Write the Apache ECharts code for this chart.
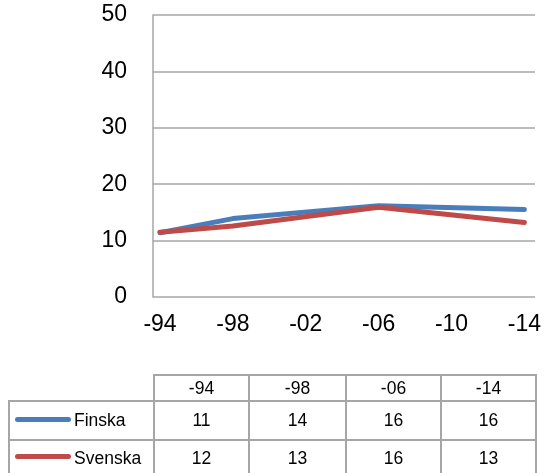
<!DOCTYPE html>
<html>
<head>
<meta charset="utf-8">
<script src="https://cdn.jsdelivr.net/npm/echarts@6/dist/echarts.min.js"></script>
<style>
  html, body { margin: 0; padding: 0; background: #fff; }
  #wrap { position: relative; width: 544px; height: 473px; overflow: hidden; font-family: 'Liberation Sans', Arial, sans-serif; }
  #chart { position: absolute; left: 0; top: 0; width: 544px; height: 473px; }
  #tbl { position: absolute; left: 8px; top: 374px; border-collapse: collapse; table-layout: fixed; font-size: 17.5px; color: #000; }
  #tbl td { border: 2px solid #a6a6a6; text-align: center; padding: 0; }
  #tbl td.corner { border: none; }
  #tbl td.name { text-align: left; white-space: nowrap; }
  .key { display: inline-block; width: 56px; height: 5px; border-radius: 3px; margin: 0 3px 4px 5px; vertical-align: middle; }
</style>
</head>
<body>
<div id="wrap">
  <div id="chart"></div>
  <table id="tbl"></table>
</div>
<script>
// axelns kategorier
const years = ['-94', '-98', '-02', '-06', '-10', '-14']
// linjernas värden (null = inget mätvärde, linjen dras rakt igenom)
const finska = [11.4, 13.9, null, 16.2, null, 15.5]
const svenska = [11.5, 12.6, null, 15.9, null, 13.2]
// datatabellen under diagrammet
const tableYears = ['-94', '-98', '-06', '-14']
const finskaTable = [11, 14, 16, 16]
const svenskaTable = [12, 13, 16, 13]

const blue = '#4a7ebb'
const red = '#be4b48'
const gray = '#a6a6a6'

const myChart = echarts.init(document.getElementById('chart'))
myChart.setOption({
  animation: false,
  textStyle: { fontFamily: 'Liberation Sans' },
  grid: [
    // rutnät och y-axel
    { left: 153, right: 9, top: 15, bottom: 176 },
    // punkterna ligger lite innanför rutnätet
    { left: 160, right: 17, top: 15, bottom: 176 }
  ],
  xAxis: [
    { gridIndex: 0, type: 'value', min: 0, max: 1, show: false },
    {
      gridIndex: 1,
      type: 'category',
      data: years,
      boundaryGap: false,
      axisLine: { show: false },
      axisTick: { show: false },
      axisLabel: { interval: 0, fontSize: 23, color: '#000', margin: 16 }
    }
  ],
  yAxis: [
    {
      gridIndex: 0,
      type: 'value',
      min: 0,
      max: 50,
      interval: 10,
      axisLine: { show: true, lineStyle: { color: gray, width: 1.5 } },
      axisTick: { show: false },
      splitLine: { lineStyle: { color: gray, width: 1.5 } },
      axisLabel: { fontSize: 23, color: '#000', margin: 26, padding: [5, 0, 0, 0] }
    },
    { gridIndex: 1, type: 'value', min: 0, max: 50, show: false }
  ],
  series: [
    {
      name: 'Finska',
      type: 'line',
      xAxisIndex: 1,
      yAxisIndex: 1,
      data: finska,
      connectNulls: true,
      showSymbol: false,
      lineStyle: { color: blue, width: 5, cap: 'round', join: 'round' }
    },
    {
      name: 'Svenska',
      type: 'line',
      xAxisIndex: 1,
      yAxisIndex: 1,
      data: svenska,
      connectNulls: true,
      showSymbol: false,
      lineStyle: { color: red, width: 5, cap: 'round', join: 'round' }
    }
  ]
})

// bygg datatabellen
const colWidths = [145, 95, 97, 95, 95]
const tbl = document.getElementById('tbl')
let html = '<colgroup>' + colWidths.map(w => '<col style="width:' + w + 'px">').join('') + '</colgroup>'
html += '<tr style="height:26px"><td class="corner"></td>' + tableYears.map(y => '<td>' + y + '</td>').join('') + '</tr>'
const rows = [
  { name: 'Finska', color: blue, vals: finskaTable, h: 39 },
  { name: 'Svenska', color: red, vals: svenskaTable, h: 36 }
]
rows.forEach(r => {
  html += '<tr style="height:' + r.h + 'px"><td class="name"><span class="key" style="background:' + r.color + '"></span>' + r.name + '</td>' +
    r.vals.map(v => '<td>' + v + '</td>').join('') + '</tr>'
})
tbl.innerHTML = html
</script>
</body>
</html>
